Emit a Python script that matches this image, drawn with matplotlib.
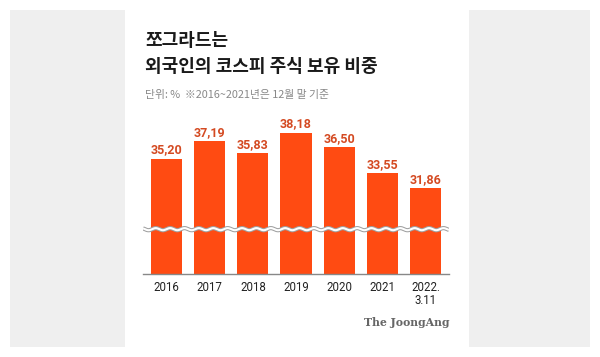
import numpy as np
import matplotlib.pyplot as plt
from matplotlib.patches import Rectangle

plt.rcParams['font.family'] = ['Noto Sans CJK KR', 'DejaVu Sans']

# data
years = ['2016', '2017', '2018', '2019', '2020', '2021', '2022.\n3.11']
shares = [35.20, 37.19, 35.83, 38.18, 36.50, 33.55, 31.86]
labels = ['35,20', '37,19', '35,83', '38,18', '36,50', '33,55', '31,86']

W, H = 600, 357
fig = plt.figure(figsize=(6, 3.57), dpi=100)
fig.patch.set_facecolor('white')

# grey side panels
for x0, x1 in [(10, 125), (469, 590)]:
    fig.patches.append(Rectangle((x0 / W, 1 - 347 / H), (x1 - x0) / W, 337 / H,
                                 transform=fig.transFigure, facecolor='#efefef',
                                 edgecolor='none', zorder=0))

ax = fig.add_axes([143 / W, 1 - 274 / H, 306 / W, 154 / H])
ax.set_facecolor('none')
x = np.arange(len(years))
bar_col = '#ff4b12'
ax.bar(x, shares, width=0.72, color=bar_col, zorder=2)
for xi, v, lab in zip(x, shares, labels):
    ax.text(xi, v + 0.3, lab, ha='center', va='bottom', fontsize=9,
            fontweight='bold', color='#d44a22', family=['Roboto', 'DejaVu Sans'])

ax.set_xlim(-0.545, len(years) - 0.455)
ax.set_ylim(22.15, 39.6)
ax.set_xticks(x)
ax.set_xticklabels(years, fontsize=8.3, color='#222222', linespacing=1.0,
                   family=['Roboto', 'DejaVu Sans'])
ax.tick_params(axis='x', length=0, pad=5)
ax.set_yticks([])
for s in ['left', 'right', 'top']:
    ax.spines[s].set_visible(False)
ax.spines['bottom'].set_color('#888888')
ax.spines['bottom'].set_linewidth(1.0)

# axis-break wave
wx = np.linspace(-0.545, len(years) - 0.455, 600)
wy = 27.23 + 0.12 * np.sin(wx * 2 * np.pi * 3.0)
ax.plot(wx, wy, color='#a0a0a0', lw=3.0, zorder=3, solid_capstyle='butt')
ax.plot(wx, wy, color='white', lw=1.5, zorder=4, solid_capstyle='butt')

# titles
fig.text(145 / W, 1 - 40 / H, '쪼그라드는', fontsize=13, fontweight='bold',
         color='#1a1a1a', va='center', ha='left')
fig.text(145 / W, 1 - 66 / H, '외국인의 코스피 주식 보유 비중', fontsize=13,
         fontweight='bold', color='#1a1a1a', va='center', ha='left')
fig.text(145 / W, 1 - 95 / H, '단위: %  ※2016~2021년은 12월 말 기준', fontsize=7.8,
         color='#888888', va='center', ha='left')
fig.text(449 / W, 1 - 322 / H, 'The JoongAng', fontsize=7.8, fontweight='bold',
         color='#666666', va='center', ha='right', family=['DejaVu Serif'])

fig.savefig('out.png', dpi=100)
